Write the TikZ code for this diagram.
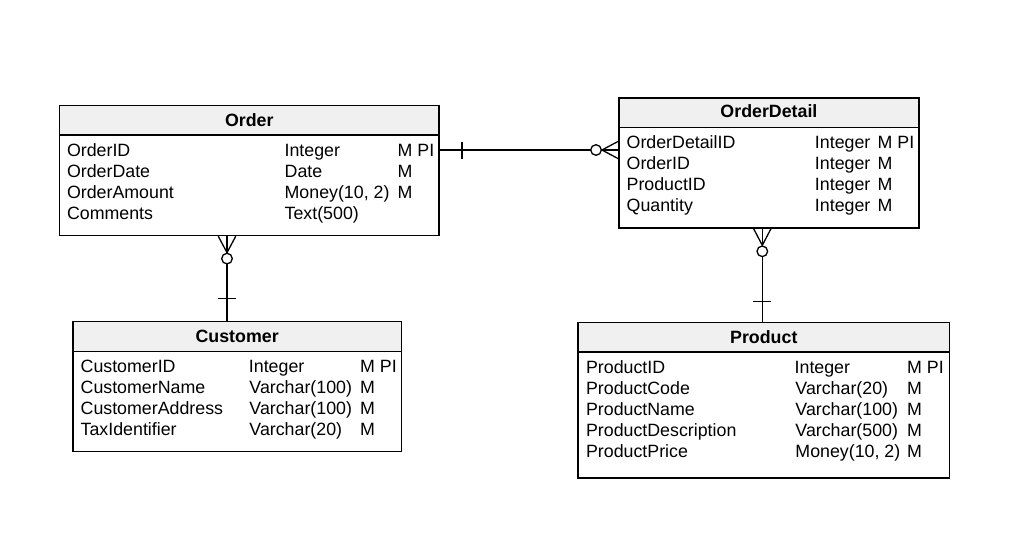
\documentclass[tikz,border=0pt]{standalone}
\usepackage{fontspec}
\setmainfont{Liberation Sans}
\definecolor{hdrgray}{HTML}{F0F0F0}
\begin{document}
\begin{tikzpicture}[x=1pt,y=-1pt,line width=1.3pt,
  tblbox/.style={draw,rectangle,inner sep=0,anchor=north west},
  hdrbox/.style={draw,fill=hdrgray,rectangle,inner sep=0,anchor=north west,minimum height=29.5},
  ttl/.style={font=\fontsize{17.8}{21}\selectfont\bfseries,anchor=base,inner sep=0},
  txt/.style={font=\fontsize{17.8}{21}\selectfont,anchor=base west,inner sep=0},
  ring/.style={circle,draw,fill=white,inner sep=0,minimum size=10.6},
]
\useasboundingbox (0,0) rectangle (1018,544);

% ---------- Order ----------
\node[hdrbox,minimum width=379.3] (orderh) at (59,104.7) {};
\node[tblbox,minimum width=379.3,minimum height=130.3] (order) at (59,104.7) {};
\node[ttl] (ordert) at ([yshift=-21.3pt]orderh.north) {Order};
\node[txt] (o1a) at (66.4,156) {OrderID};
\node[txt] (o1b) at (284,156) {Integer};
\node[txt] (o1c) at (397,156) {M PI};
\node[txt] (o2a) at (66.4,177) {OrderDate};
\node[txt] (o2b) at (284,177) {Date};
\node[txt] (o2c) at (397,177) {M};
\node[txt] (o3a) at (66.4,198) {OrderAmount};
\node[txt] (o3b) at (284,198) {Money(10, 2)};
\node[txt] (o3c) at (397,198) {M};
\node[txt] (o4a) at (66.4,219) {Comments};
\node[txt] (o4b) at (284,219) {Text(500)};

% ---------- OrderDetail ----------
\node[hdrbox,minimum width=300] (odh) at (618.3,97.3) {};
\node[tblbox,minimum width=300,minimum height=130] (od) at (618.3,97.3) {};
\node[ttl] (odt) at ([yshift=-20.3pt]odh.north) {OrderDetail};
\node[txt] (d1a) at (626,148) {OrderDetailID};
\node[txt] (d1b) at (814.3,148) {Integer};
\node[txt] (d1c) at (877,148) {M PI};
\node[txt] (d2a) at (626,169) {OrderID};
\node[txt] (d2b) at (814.3,169) {Integer};
\node[txt] (d2c) at (877,169) {M};
\node[txt] (d3a) at (626,190) {ProductID};
\node[txt] (d3b) at (814.3,190) {Integer};
\node[txt] (d3c) at (877,190) {M};
\node[txt] (d4a) at (626,211) {Quantity};
\node[txt] (d4b) at (814.3,211) {Integer};
\node[txt] (d4c) at (877,211) {M};

% ---------- Customer ----------
\node[hdrbox,minimum width=328.4] (cuh) at (72.3,321) {};
\node[tblbox,minimum width=328.4,minimum height=130] (cu) at (72.3,321) {};
\node[ttl] (cut) at ([yshift=-21.3pt]cuh.north) {Customer};
\node[txt] (c1a) at (80,372) {CustomerID};
\node[txt] (c1b) at (248.3,372) {Integer};
\node[txt] (c1c) at (359.5,372) {M PI};
\node[txt] (c2a) at (80,393) {CustomerName};
\node[txt] (c2b) at (248.8,393) {Varchar(100)};
\node[txt] (c2c) at (359.5,393) {M};
\node[txt] (c3a) at (80,414) {CustomerAddress};
\node[txt] (c3b) at (248.8,414) {Varchar(100)};
\node[txt] (c3c) at (359.5,414) {M};
\node[txt] (c4a) at (80,435) {TaxIdentifier};
\node[txt] (c4b) at (248.8,435) {Varchar(20)};
\node[txt] (c4c) at (359.5,435) {M};

% ---------- Product ----------
\node[hdrbox,minimum width=371.7] (prh) at (577.3,321.7) {};
\node[tblbox,minimum width=371.7,minimum height=155.6] (pr) at (577.3,321.7) {};
\node[ttl] (prt) at ([yshift=-21.6pt]prh.north) {Product};
\node[txt] (p1a) at (585.4,373) {ProductID};
\node[txt] (p1b) at (794,373) {Integer};
\node[txt] (p1c) at (906.5,373) {M PI};
\node[txt] (p2a) at (585.4,394) {ProductCode};
\node[txt] (p2b) at (794.8,394) {Varchar(20)};
\node[txt] (p2c) at (906.5,394) {M};
\node[txt] (p3a) at (585.4,415) {ProductName};
\node[txt] (p3b) at (794.8,415) {Varchar(100)};
\node[txt] (p3c) at (906.5,415) {M};
\node[txt] (p4a) at (585.4,436) {ProductDescription};
\node[txt] (p4b) at (794.8,436) {Varchar(500)};
\node[txt] (p4c) at (906.5,436) {M};
\node[txt] (p5a) at (585.4,457) {ProductPrice};
\node[txt] (p5b) at (794.8,457) {Money(10, 2)};
\node[txt] (p5c) at (906.5,457) {M};

% ---------- Order -- OrderDetail ----------
\coordinate (r1) at (0,150);
\draw (order.east |- r1) -- (od.west |- r1);
\draw ([xshift=22.5pt]order.east |- r1) ++(0,-8.5) -- ++(0,17);
\node[ring] (k1) at ([xshift=-22.3pt]od.west |- r1) {};
\draw (k1.east) -- ([yshift=8.7pt]od.west |- r1);
\draw (k1.east) -- ([yshift=-8.7pt]od.west |- r1);

% ---------- Order -- Customer ----------
\coordinate (v1) at (227,0);
\draw (order.south -| v1) -- (cu.north -| v1);
\draw ([yshift=-62.3pt]order.south -| v1) ++(-9,0) -- ++(18,0);
\node[ring] (k2) at ([yshift=-22.3pt]order.south -| v1) {};
\draw (k2.north) -- ([xshift=-8.7pt]order.south -| v1);
\draw (k2.north) -- ([xshift=8.7pt]order.south -| v1);

% ---------- OrderDetail -- Product ----------
\coordinate (v2) at (762.3,0);
\draw (od.south -| v2) -- (pr.north -| v2);
\draw ([yshift=-72.7pt]od.south -| v2) ++(-9,0) -- ++(18,0);
\node[ring] (k3) at ([yshift=-22.7pt]od.south -| v2) {};
\draw (k3.north) -- ([xshift=-8.7pt]od.south -| v2);
\draw (k3.north) -- ([xshift=8.7pt]od.south -| v2);
\end{tikzpicture}
\end{document}
